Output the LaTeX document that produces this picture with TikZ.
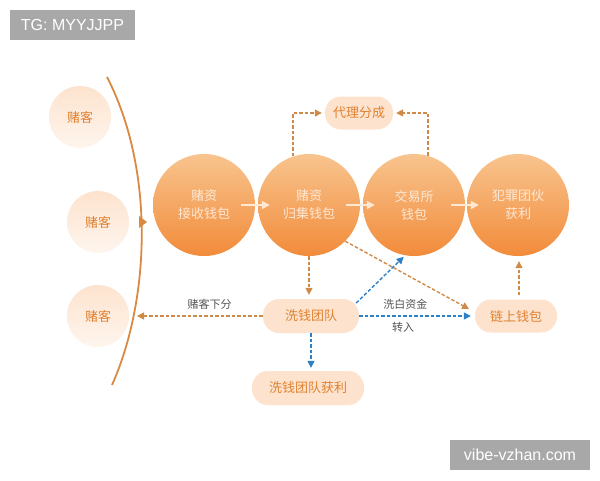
\documentclass[tikz,border=0pt]{standalone}
\usepackage{fontspec}
\setmainfont{Liberation Sans}
\newfontfamily\cjk{Noto Sans CJK SC}
\usetikzlibrary{arrows.meta,calc}
\definecolor{wmgray}{HTML}{A8A8A8}
\definecolor{ctop}{HTML}{F8C48E}
\definecolor{cbot}{HTML}{F28B3A}
\definecolor{ctext}{HTML}{FDE8D4}
\definecolor{peach}{HTML}{FDE3CE}
\definecolor{ntext}{HTML}{E0812F}
\definecolor{odash}{HTML}{D08A48}
\definecolor{bdash}{HTML}{2B80C8}
\definecolor{ltext}{HTML}{555555}
\definecolor{curvec}{HTML}{D98A42}
\tikzset{
  wm/.style={fill=wmgray, text=white, inner sep=0pt, font=\fontsize{16}{18}\selectfont},
  bigc/.style={circle, minimum size=102pt, inner sep=0pt, top color=ctop, bottom color=cbot, text=ctext, align=center, font=\cjk\fontsize{13}{18}\selectfont},
  gam/.style={circle, minimum size=62pt, inner sep=0pt, top color=peach, bottom color=peach!35!white, text=ntext, font=\cjk\fontsize{13}{14}\selectfont},
  pill/.style={rounded corners=16pt, fill=peach, text=ntext, inner sep=0pt, font=\cjk\fontsize{13}{14}\selectfont},
  lab/.style={text=ltext, font=\cjk\fontsize{11}{13}\selectfont},
  odarrow/.style={draw=odash, line width=1.4pt, dash pattern=on 3.5pt off 2pt, -{Triangle[length=7pt,width=7pt]}, shorten >=2pt},
  bdarrow/.style={draw=bdash, line width=1.4pt, dash pattern=on 3.5pt off 2pt, -{Triangle[length=7pt,width=7pt]}, shorten >=2pt},
  warrow/.style={draw=ctext, line width=1.6pt, -{Triangle[length=8pt,width=8pt]}},
}
\begin{document}
\begin{tikzpicture}[x=1pt,y=-1pt]
\useasboundingbox (0,0) rectangle (600,480);
\fill[white] (0,0) rectangle (600,480);
% watermarks
\node[wm, minimum width=125pt, minimum height=30pt] (tg) at (72.5,25) {TG: MYYJJPP};
\node[wm, minimum width=140pt, minimum height=30pt] (vb) at (520,455) {vibe-vzhan.com};
% gamblers
\node[gam] (g1) at (80,117) {赌客};
\node[gam] (g2) at (98,222) {赌客};
\node[gam] (g3) at (98,316) {赌客};
% curve
\draw[curvec, line width=1.8pt] (107,77) .. controls (155,170) and (150,300) .. (112,385);
\fill[curvec] (139,216) -- (147,222) -- (139,228) -- cycle;
\coordinate (hit) at (136,316);
% big circles
\node[bigc] (c1) at (204,205) {赌资\\接收钱包};
\node[bigc] (c2) at (309,205) {赌资\\归集钱包};
\node[bigc] (c3) at (414,205) {交易所\\钱包};
\node[bigc] (c4) at (518,205) {犯罪团伙\\获利};
\draw[warrow] ([xshift=-14pt]c1.east) -- ([xshift=12pt]c2.west);
\draw[warrow] ([xshift=-14pt]c2.east) -- ([xshift=12pt]c3.west);
\draw[warrow] ([xshift=-14pt]c3.east) -- ([xshift=12pt]c4.west);
% pills
\node[pill, minimum width=68pt, minimum height=33pt] (agent) at (359,113) {代理分成};
\node[pill, minimum width=96pt, minimum height=34pt] (wash) at (311,316) {洗钱团队};
\node[pill, minimum width=112pt, minimum height=34pt] (wp) at (308,388) {洗钱团队获利};
\node[pill, minimum width=82pt, minimum height=33pt] (chain) at (516,316) {链上钱包};
% connectors
\draw[odarrow, shorten >=3pt] (c2.108) |- (agent.west);
\draw[odarrow, shorten >=3pt] (c3.74) |- (agent.east);
\draw[odarrow, shorten >=4pt] (c2.south) -- (c2.south |- wash.north);
\draw[bdarrow, shorten >=3pt] (wash.south) -- (wash.south |- wp.north);
\draw[odarrow, shorten >=1pt] (wash.west) -- node[lab, pos=0.42, yshift=12pt]{赌客下分} (hit);
\draw[odarrow] (c2.-45) -- ([xshift=-4pt,yshift=6pt]chain.west);
\draw[bdarrow] ([yshift=13pt,xshift=-3pt]wash.east) -- (c3.-100);
\draw[bdarrow, shorten >=4pt] (wash.east) -- node[lab, pos=0.4, yshift=12pt]{洗白资金} node[lab, pos=0.38, yshift=-11pt]{转入} (wash.east -| chain.west);
\draw[odarrow, shorten >=5pt] ([xshift=3pt,yshift=4pt]chain.north) -- ([xshift=3pt]chain.north |- c4.south);
\end{tikzpicture}
\end{document}
